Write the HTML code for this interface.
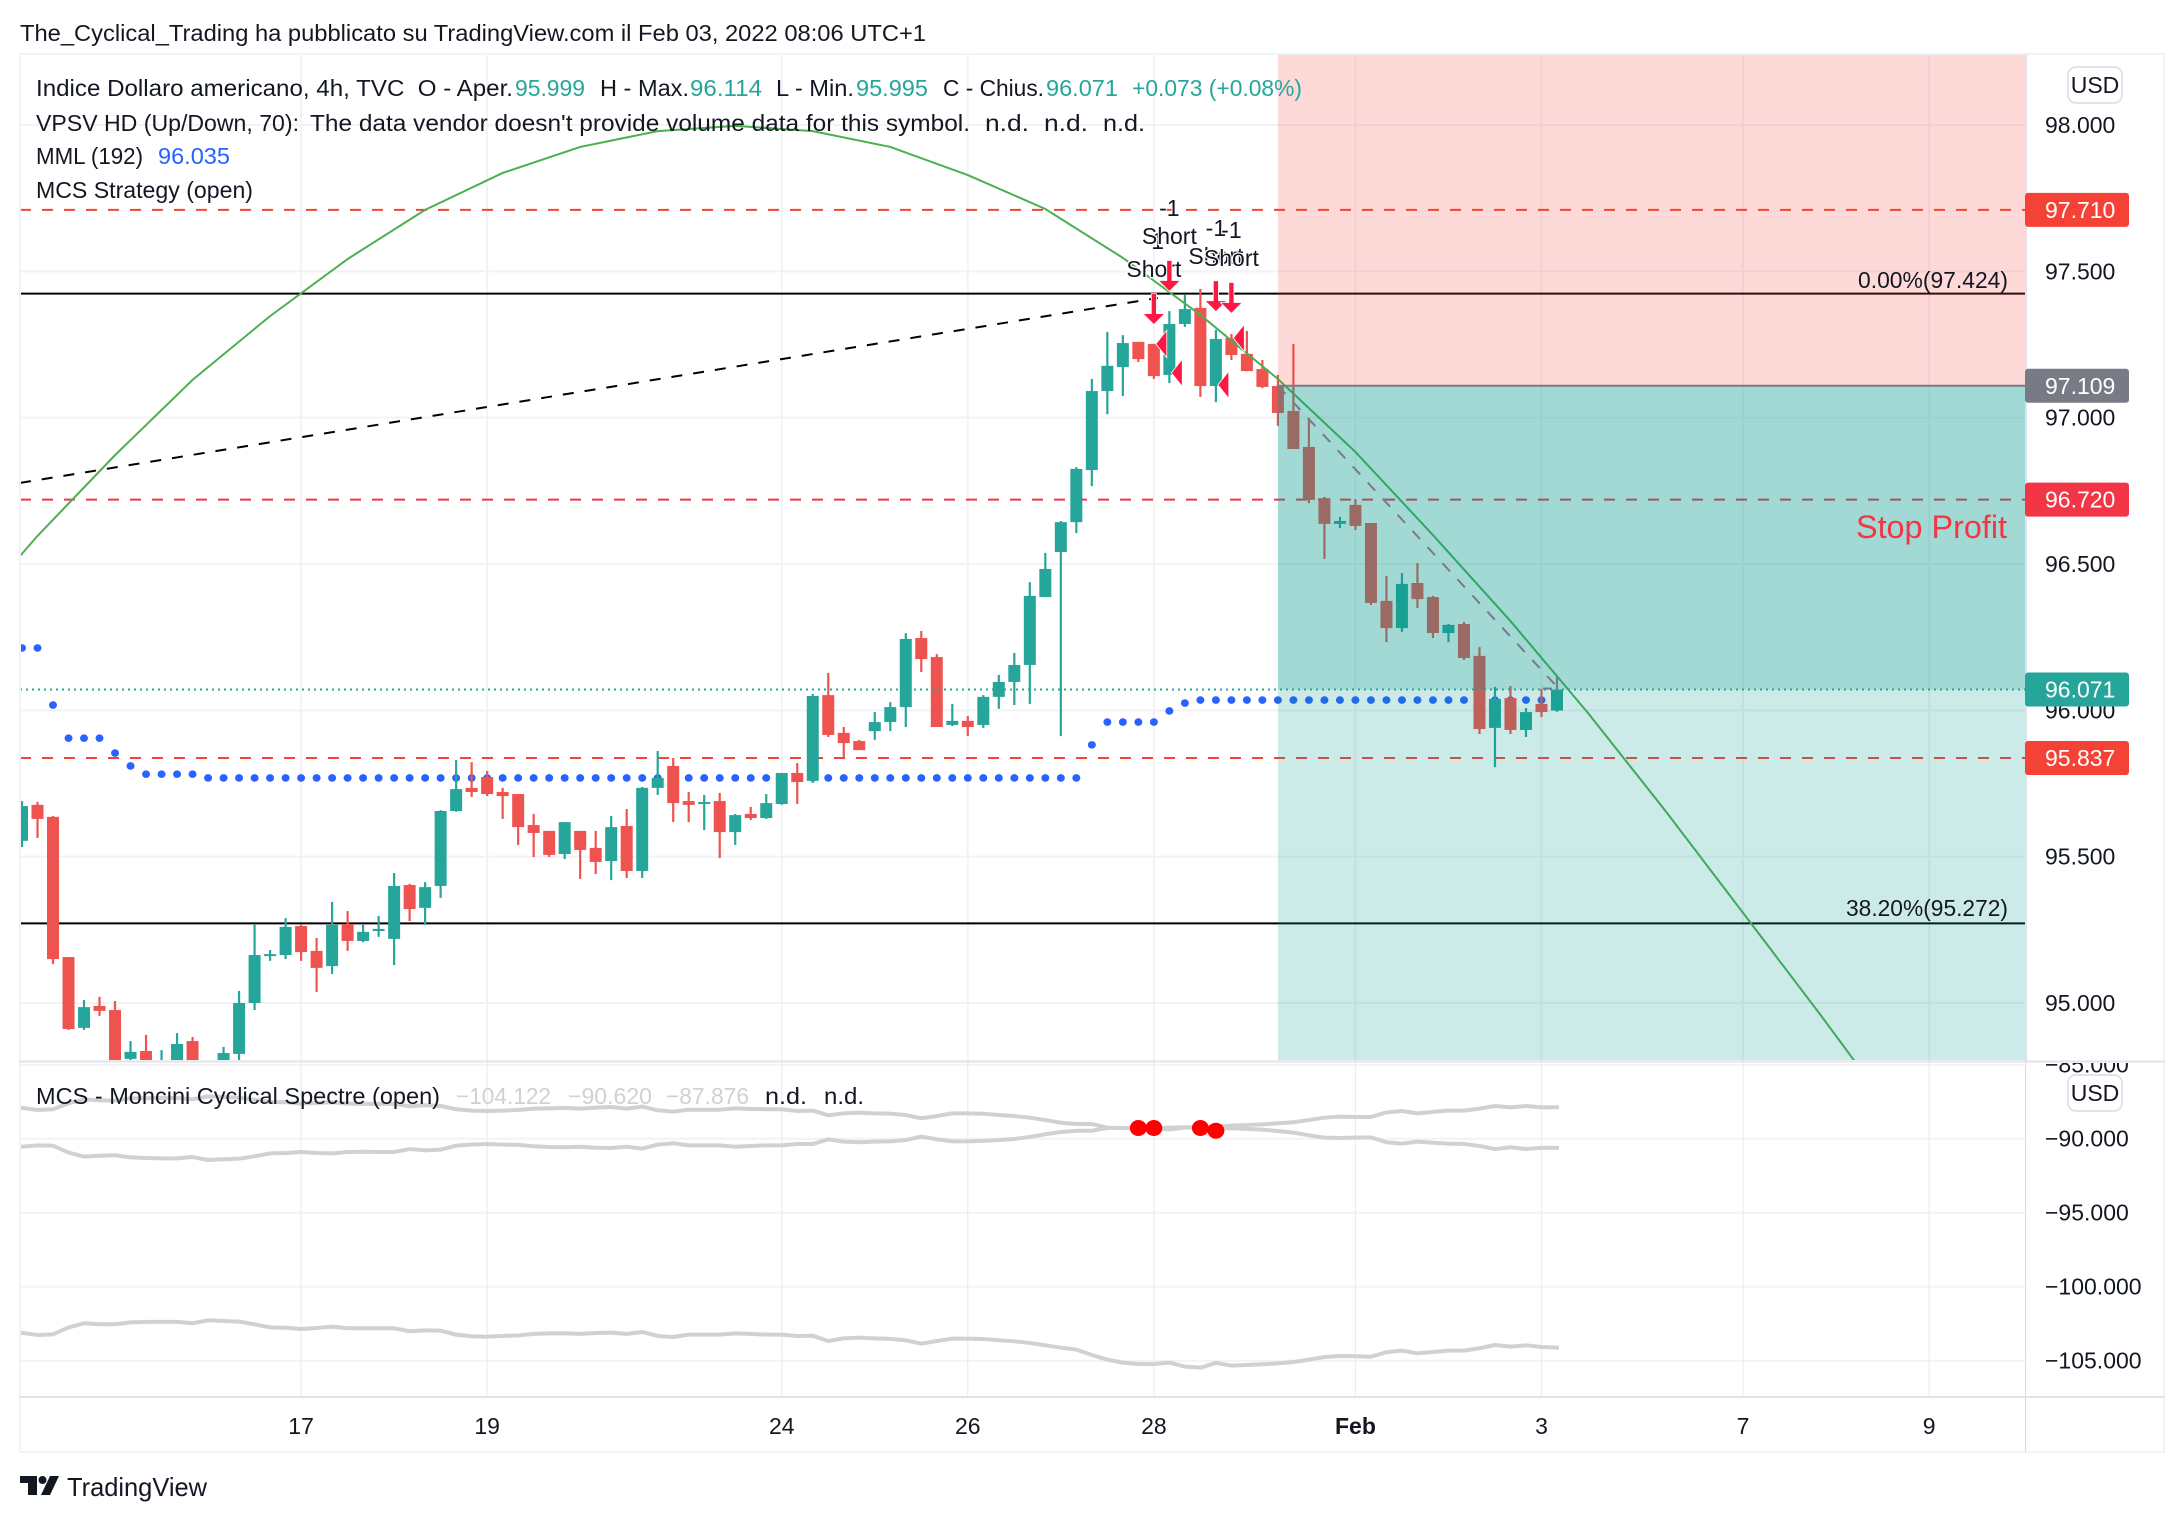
<!DOCTYPE html>
<html lang="it">
<head>
<meta charset="utf-8">
<title>Indice Dollaro americano, 4h</title>
<style>
html,body{margin:0;padding:0;background:#fff;width:2184px;height:1522px;overflow:hidden}
svg{display:block;font-family:"Liberation Sans",sans-serif;font-size:23px;fill:#131722}
</style>
</head>
<body>
<svg id="chart" xmlns="http://www.w3.org/2000/svg" width="2184" height="1522" viewBox="0 0 2184 1522">
  <defs>
    <clipPath id="main-clip"><rect x="21" y="55" width="2004" height="1005"/></clipPath>
    <clipPath id="spec-clip"><rect x="21" y="1063" width="2004" height="333"/></clipPath>
    <clipPath id="spec-axis-clip"><rect x="2027" y="1063" width="136" height="333"/></clipPath>
  </defs>
  <rect width="2184" height="1522" fill="#ffffff"/>
  <text x="20" y="41" textLength="906" lengthAdjust="spacingAndGlyphs">The_Cyclical_Trading ha pubblicato su TradingView.com il Feb 03, 2022 08:06 UTC+1</text>

  <g id="grid"></g>
  <g id="main-pane" clip-path="url(#main-clip)">
    <g id="levels"></g>
    <g id="dots"></g>
    <g id="candles"></g>
    <g id="curve"></g>
    <g id="zones"></g>
    <g id="overlay"></g>
    <g id="markers"></g>
  </g>
  <g id="spec-pane" clip-path="url(#spec-clip)"></g>

  <g fill="none">
    <line x1="20" x2="2165" y1="54" y2="54" stroke="#f0f3fa" stroke-width="2"/>
    <line x1="20" x2="20" y1="54" y2="1452" stroke="#f0f3fa" stroke-width="2"/>
    <line x1="2164" x2="2164" y1="54" y2="1452" stroke="#f0f3fa" stroke-width="2"/>
    <line x1="20" x2="2165" y1="1452" y2="1452" stroke="#f0f3fa" stroke-width="2"/>
    <line x1="20" x2="2165" y1="1061.5" y2="1061.5" stroke="#e0e3eb" stroke-width="2"/>
    <line x1="20" x2="2165" y1="1397" y2="1397" stroke="#e0e3eb" stroke-width="2"/>
    <line x1="2026" x2="2026" y1="54" y2="1061" stroke="#e0e3eb" stroke-width="2"/>
    <line x1="2025.5" x2="2025.5" y1="1062" y2="1452" stroke="#d8d8dd" stroke-width="1"/>
  </g>

  <g id="axis-labels"></g>
  <g id="spec-axis-labels" clip-path="url(#spec-axis-clip)"></g>
  <g id="tags"></g>

  <g>
    <text x="36" y="96" textLength="477" lengthAdjust="spacingAndGlyphs" xml:space="preserve">Indice Dollaro americano, 4h, TVC  O - Aper.</text>
    <text x="515" y="96" textLength="70" lengthAdjust="spacingAndGlyphs" fill="#26a69a">95.999</text>
    <text x="600" y="96" textLength="89" lengthAdjust="spacingAndGlyphs">H - Max.</text>
    <text x="690" y="96" textLength="72" lengthAdjust="spacingAndGlyphs" fill="#26a69a">96.114</text>
    <text x="776" y="96" textLength="78" lengthAdjust="spacingAndGlyphs">L - Min.</text>
    <text x="856" y="96" textLength="72" lengthAdjust="spacingAndGlyphs" fill="#26a69a">95.995</text>
    <text x="943" y="96" textLength="101" lengthAdjust="spacingAndGlyphs">C - Chius.</text>
    <text x="1046" y="96" textLength="72" lengthAdjust="spacingAndGlyphs" fill="#26a69a">96.071</text>
    <text x="1132" y="96" textLength="170" lengthAdjust="spacingAndGlyphs" fill="#26a69a">+0.073 (+0.08%)</text>
    <text x="36" y="131" textLength="263" lengthAdjust="spacingAndGlyphs">VPSV HD (Up/Down, 70):</text>
    <text x="310" y="131" textLength="660" lengthAdjust="spacingAndGlyphs">The data vendor doesn't provide volume data for this symbol.</text>
    <text x="985" y="131" textLength="44" lengthAdjust="spacingAndGlyphs">n.d.</text>
    <text x="1044" y="131" textLength="44" lengthAdjust="spacingAndGlyphs">n.d.</text>
    <text x="1103" y="131" textLength="42" lengthAdjust="spacingAndGlyphs">n.d.</text>
    <text x="36" y="164" textLength="107" lengthAdjust="spacingAndGlyphs">MML (192)</text>
    <text x="158" y="164" textLength="72" lengthAdjust="spacingAndGlyphs" fill="#2962ff">96.035</text>
    <text x="36" y="198" textLength="217" lengthAdjust="spacingAndGlyphs">MCS Strategy (open)</text>
  </g>

  <g>
    <text x="36" y="1104" textLength="404" lengthAdjust="spacingAndGlyphs">MCS - Moncini Cyclical Spectre (open)</text>
    <text x="456" y="1104" textLength="95" lengthAdjust="spacingAndGlyphs" fill="#d1d1d1">−104.122</text>
    <text x="568" y="1104" textLength="84" lengthAdjust="spacingAndGlyphs" fill="#d1d1d1">−90.620</text>
    <text x="666" y="1104" textLength="83" lengthAdjust="spacingAndGlyphs" fill="#d1d1d1">−87.876</text>
    <text x="765" y="1104" textLength="42" lengthAdjust="spacingAndGlyphs">n.d.</text>
    <text x="824" y="1104" textLength="40" lengthAdjust="spacingAndGlyphs">n.d.</text>
  </g>

  <g>
    <text x="1858" y="288" textLength="150" lengthAdjust="spacingAndGlyphs">0.00%(97.424)</text>
    <text x="1846" y="916" textLength="162" lengthAdjust="spacingAndGlyphs">38.20%(95.272)</text>
    <text x="1856" y="538" font-size="32" textLength="151" lengthAdjust="spacingAndGlyphs" fill="#f23645">Stop Profit</text>
  </g>

  <g>
    <rect x="2068" y="67" width="54" height="36" rx="8" fill="#fff" stroke="#e0e3eb" stroke-width="2"/>
    <text x="2095" y="93" text-anchor="middle">USD</text>
  </g>
  <g>
    <rect x="2068" y="1075" width="54" height="36" rx="8" fill="#fff" stroke="#e0e3eb" stroke-width="2"/>
    <text x="2095" y="1101" text-anchor="middle">USD</text>
  </g>

  <g>
    <path d="M20 1476H37V1495H28V1483H20Z" fill="#131722"/>
    <circle cx="42.500" cy="1480" r="4" fill="#131722"/>
    <path d="M50 1476H59L50 1495H41Z" fill="#131722"/>
    <text x="67" y="1496" font-size="26" textLength="140" lengthAdjust="spacingAndGlyphs">TradingView</text>
  </g>
</svg>

<script>
// ---- candle data ----
const opens = [95.554,95.677,95.636,95.157,94.915,94.990,94.976,94.809,94.836,94.740,
94.740,94.870,94.780,94.750,94.826,95.000,95.161,95.164,95.263,95.178,
95.126,95.270,95.212,95.246,95.219,95.403,95.325,95.400,95.656,95.735,
95.772,95.721,95.714,95.608,95.588,95.509,95.588,95.530,95.485,95.605,
95.451,95.735,95.810,95.690,95.680,95.690,95.584,95.646,95.632,95.680,
95.786,95.759,96.052,95.923,95.895,95.929,95.960,96.011,96.247,96.182,
95.950,95.964,95.950,96.046,96.097,96.155,96.387,96.541,96.643,96.821,
97.091,97.173,97.259,97.252,97.146,97.320,97.375,97.108,97.272,97.218,
97.166,97.108,97.023,96.900,96.725,96.637,96.702,96.640,96.374,96.281,
96.435,96.387,96.264,96.295,96.186,95.940,96.042,95.933,96.022,95.999];
const highs = [95.690,95.687,95.639,95.157,95.010,95.021,95.007,94.870,94.891,94.839,
94.897,94.884,94.790,94.850,95.041,95.267,95.181,95.290,95.267,95.222,
95.345,95.314,95.267,95.297,95.444,95.407,95.413,95.659,95.830,95.823,
95.793,95.735,95.714,95.646,95.588,95.618,95.588,95.588,95.639,95.663,
95.738,95.861,95.837,95.721,95.711,95.718,95.646,95.670,95.714,95.786,
95.820,96.056,96.128,95.943,95.899,95.994,96.028,96.264,96.271,96.192,
96.022,95.981,96.052,96.121,96.196,96.438,96.538,96.647,96.831,97.132,
97.293,97.282,97.259,97.252,97.364,97.419,97.440,97.300,97.286,97.296,
97.197,97.146,97.252,96.999,96.729,96.661,96.722,96.640,96.459,96.469,
96.503,96.391,96.295,96.302,96.216,96.080,96.083,96.008,96.073,96.114];
const lows = [95.533,95.564,95.133,94.908,94.908,94.956,94.760,94.805,94.740,94.720,
94.720,94.730,94.700,94.730,94.805,94.976,95.144,95.150,95.144,95.038,
95.099,95.178,95.208,95.226,95.130,95.280,95.267,95.359,95.653,95.704,
95.707,95.629,95.540,95.499,95.499,95.492,95.424,95.441,95.420,95.427,
95.427,95.711,95.618,95.618,95.591,95.495,95.540,95.625,95.629,95.677,
95.680,95.752,95.909,95.837,95.864,95.899,95.929,95.943,96.131,95.943,
95.946,95.912,95.940,96.005,96.018,96.022,96.387,95.912,96.606,96.766,
97.012,97.074,97.190,97.132,97.118,97.310,97.071,97.053,97.197,97.159,
97.101,96.972,96.893,96.708,96.517,96.623,96.616,96.360,96.233,96.268,
96.350,96.247,96.233,96.172,95.919,95.806,95.919,95.909,95.977,95.995];
const closes = [95.673,95.629,95.150,94.911,94.986,94.973,94.800,94.833,94.760,94.790,
94.860,94.750,94.740,94.829,95.000,95.164,95.167,95.260,95.174,95.120,
95.267,95.212,95.243,95.253,95.400,95.321,95.396,95.656,95.731,95.721,
95.714,95.707,95.601,95.581,95.506,95.618,95.523,95.482,95.601,95.451,
95.735,95.769,95.683,95.677,95.687,95.584,95.642,95.632,95.683,95.786,
95.755,96.049,95.916,95.888,95.864,95.960,96.011,96.244,96.175,95.943,
95.964,95.943,96.046,96.097,96.155,96.391,96.483,96.643,96.825,97.091,
97.177,97.255,97.200,97.142,97.320,97.371,97.108,97.269,97.214,97.159,
97.105,97.016,96.893,96.719,96.637,96.647,96.630,96.367,96.281,96.432,
96.380,96.264,96.292,96.179,95.936,96.039,95.933,95.994,95.994,96.071];

// ---- MML dots, one per candle ----
const mmlDots = [96.213,96.213,96.018,95.905,95.905,95.905,95.854,95.810,95.782,95.782,
95.782,95.782,95.769,95.769,95.769,95.769,95.769,95.769,95.769,95.769,
95.769,95.769,95.769,95.769,95.769,95.769,95.769,95.769,95.769,95.769,
95.769,95.769,95.769,95.769,95.769,95.769,95.769,95.769,95.769,95.769,
95.769,95.769,95.769,95.769,95.769,95.769,95.769,95.769,95.769,95.769,
95.769,95.769,95.769,95.769,95.769,95.769,95.769,95.769,95.769,95.769,
95.769,95.769,95.769,95.769,95.769,95.769,95.769,95.769,95.769,95.882,
95.960,95.960,95.960,95.960,95.998,96.025,96.035,96.035,96.035,96.035,
96.035,96.035,96.035,96.035,96.035,96.035,96.035,96.035,96.035,96.035,
96.035,96.035,96.035,96.035,96.035,96.035,96.035,96.035,96.035];

// ---- green curve ----
const curveBars = [-4,1,6,11,16,21,26,31,36,41,46,51,56,61,66,71,76,81,86,91,96,101,106,111,116,121];
const curveValues = [96.292,96.596,96.872,97.129,97.347,97.542,97.710,97.836,97.925,97.979,97.997,97.979,97.925,97.829,97.713,97.546,97.351,97.132,96.883,96.599,96.305,95.991,95.656,95.308,94.959,94.600];

// ---- spectre pane series ----
const specTop = [-87.92,-88.06,-88.01,-87.61,-87.34,-87.41,-87.43,-87.27,-87.27,-87.25,
-87.25,-87.34,-87.14,-87.18,-87.23,-87.36,-87.52,-87.54,-87.63,-87.59,
-87.54,-87.63,-87.65,-87.65,-87.65,-87.81,-87.74,-87.79,-88.01,-88.10,
-88.13,-88.10,-88.06,-87.97,-87.95,-87.92,-87.97,-87.90,-87.86,-87.97,
-87.83,-88.08,-88.17,-88.04,-88.04,-88.04,-87.95,-87.99,-88.01,-88.01,
-88.13,-88.10,-88.42,-88.29,-88.24,-88.29,-88.31,-88.40,-88.62,-88.47,
-88.29,-88.29,-88.31,-88.40,-88.47,-88.58,-88.74,-88.92,-89.01,-89.01,
-89.25,-89.28,-89.30,-89.28,-89.25,-89.23,-89.25,-89.19,-89.12,-89.07,
-89.03,-88.96,-88.89,-88.74,-88.58,-88.51,-88.53,-88.53,-88.22,-88.13,
-88.29,-88.19,-88.10,-88.10,-87.97,-87.79,-87.88,-87.79,-87.88,-87.876];
const specMid = [-90.54,-90.45,-90.47,-90.94,-91.21,-91.15,-91.12,-91.26,-91.30,-91.33,
-91.33,-91.24,-91.44,-91.39,-91.35,-91.19,-90.99,-90.97,-90.90,-90.97,
-90.99,-90.90,-90.88,-90.90,-90.90,-90.70,-90.79,-90.74,-90.47,-90.40,
-90.36,-90.40,-90.42,-90.51,-90.56,-90.58,-90.54,-90.61,-90.63,-90.54,
-90.67,-90.40,-90.31,-90.45,-90.45,-90.45,-90.54,-90.49,-90.45,-90.45,
-90.36,-90.36,-90.04,-90.20,-90.24,-90.20,-90.18,-90.09,-89.86,-90.04,
-90.18,-90.18,-90.15,-90.09,-90.02,-89.88,-89.70,-89.55,-89.46,-89.46,
-89.28,-89.28,-89.28,-89.32,-89.37,-89.25,-89.25,-89.28,-89.30,-89.34,
-89.39,-89.48,-89.59,-89.77,-89.93,-89.95,-89.93,-89.91,-90.24,-90.33,
-90.20,-90.27,-90.33,-90.36,-90.49,-90.70,-90.58,-90.70,-90.61,-90.62];
const specBottom = [-103.13,-103.26,-103.22,-102.75,-102.47,-102.54,-102.54,-102.41,-102.38,-102.38,
-102.38,-102.47,-102.27,-102.32,-102.36,-102.54,-102.75,-102.77,-102.86,-102.79,
-102.70,-102.81,-102.81,-102.81,-102.81,-103.01,-102.95,-102.97,-103.24,-103.35,
-103.38,-103.33,-103.29,-103.19,-103.15,-103.15,-103.19,-103.13,-103.10,-103.19,
-103.06,-103.33,-103.40,-103.24,-103.24,-103.24,-103.15,-103.19,-103.24,-103.24,
-103.33,-103.31,-103.67,-103.49,-103.44,-103.49,-103.53,-103.62,-103.85,-103.67,
-103.51,-103.51,-103.53,-103.62,-103.69,-103.80,-103.96,-104.12,-104.25,-104.61,
-104.93,-105.13,-105.22,-105.22,-105.13,-105.40,-105.47,-105.15,-105.33,-105.29,
-105.24,-105.18,-105.09,-104.93,-104.75,-104.68,-104.70,-104.73,-104.43,-104.32,
-104.50,-104.41,-104.32,-104.32,-104.16,-103.94,-104.05,-103.96,-104.07,-104.122];
const signalBars = [72,73,76,77];
const signalValues = [-89.28,-89.28,-89.28,-89.46];

// ---- axis ticks ----
const priceTicks = [98,97.5,97,96.5,96,95.5,95];
const specTicks = [-85,-90,-95,-100,-105];
const timeBars = [18,30,49,61,73,86,98,111,123];
const timeLabels = ['17','19','24','26','28','Feb','3','7','9'];

// ---- levels, tags, position tool ----
const dashedLevels = [97.71,96.72,95.837];
const dashedColors = ['#f44336','#f23645','#f44336'];
const fibLevels = [97.424,95.272];
const lastClose = 96.071;
const positionEntry = 97.109;
const positionStartBar = 81;
const positionEndBar = 99;
const tagValues = [97.71,97.109,96.72,96.071,95.837];
const tagColors = ['#f44336','#787b86','#f23645','#26a69a','#f44336'];
const trendBars = [-0.13,73.25];
const trendValues = [96.777,97.409];

// ---- strategy markers ----
const arrowBars = [73,74,77,78];
const arrowTips = [97.320,97.433,97.364,97.358];
const closeBars = [73,74,77,78];
const closePrices = [97.252,97.153,97.112,97.272];

// ---- axis functions ----
const SVGNS = 'http://www.w3.org/2000/svg';
function x(bar){ return 22 + 15.505 * bar; }
function y(price){ return 1003 - (price - 95) * 292.67; }
function sy(v){ return 1138.7 + (-90 - v) * 14.8; }
function mk(tag, parent){ const e = document.createElementNS(SVGNS, tag); parent.appendChild(e); return e; }
function fmt(v){ return v.toFixed(3).replace('-', '\u2212'); }
const $ = id => document.getElementById(id);

// grid
priceTicks.forEach(p => {
  const l = mk('line', $('grid'));
  
  
  l.setAttribute('x1', 20); l.setAttribute('x2', 2025);
  l.setAttribute('y1', y(p)); l.setAttribute('y2', y(p));
  l.setAttribute('stroke', '#f3f3f5'); l.setAttribute('stroke-width', 2);
});
specTicks.forEach(v => {
  const l = mk('line', $('grid'));
  
  
  l.setAttribute('x1', 20); l.setAttribute('x2', 2025);
  l.setAttribute('y1', sy(v)); l.setAttribute('y2', sy(v));
  l.setAttribute('stroke', '#f3f3f5'); l.setAttribute('stroke-width', 2);
});
timeBars.forEach(b => {
  const l = mk('line', $('grid'));
  
  
  l.setAttribute('x1', x(b)); l.setAttribute('x2', x(b));
  l.setAttribute('y1', 54); l.setAttribute('y2', 1061);
  l.setAttribute('stroke', '#f3f3f5'); l.setAttribute('stroke-width', 2);
  const m = mk('line', $('grid'));
  
  
  m.setAttribute('x1', x(b)); m.setAttribute('x2', x(b));
  m.setAttribute('y1', 1062); m.setAttribute('y2', 1397);
  m.setAttribute('stroke', '#ededf0'); m.setAttribute('stroke-width', 1.2);
});

// red dashed levels and black fib lines
dashedLevels.forEach((p, i) => {
  const l = mk('line', $('levels'));
  
  
  l.setAttribute('x1', 20); l.setAttribute('x2', 2025);
  l.setAttribute('y1', y(p)); l.setAttribute('y2', y(p));
  l.setAttribute('stroke', dashedColors[i]); l.setAttribute('stroke-width', 2);
  l.setAttribute('stroke-dasharray', '11 11');
});
fibLevels.forEach(p => {
  const l = mk('line', $('levels'));
  
  
  l.setAttribute('x1', 20); l.setAttribute('x2', 2025);
  l.setAttribute('y1', y(p)); l.setAttribute('y2', y(p));
  l.setAttribute('stroke', '#000000'); l.setAttribute('stroke-width', 2);
});
const trend = mk('line', $('levels'));


trend.setAttribute('x1', x(trendBars[0])); trend.setAttribute('x2', x(trendBars[1]));
trend.setAttribute('y1', y(trendValues[0])); trend.setAttribute('y2', y(trendValues[1]));
trend.setAttribute('stroke', '#000000'); trend.setAttribute('stroke-width', 2);
trend.setAttribute('stroke-dasharray', '11 11');

// MML dots
mmlDots.forEach((p, i) => {
  const d = mk('ellipse', $('dots'));
  
  
  d.setAttribute('cx', x(i)); d.setAttribute('cy', y(p));
  d.setAttribute('rx', 4); d.setAttribute('ry', 3.8);
  d.setAttribute('fill', '#2962ff');
});

// candles
opens.forEach((o, i) => {
  const up = closes[i] >= o;
  const col = up ? '#26a69a' : '#ef5350';
  const w = mk('line', $('candles'));
  
  
  w.setAttribute('x1', x(i)); w.setAttribute('x2', x(i));
  w.setAttribute('y1', y(highs[i])); w.setAttribute('y2', y(lows[i]));
  w.setAttribute('stroke', col); w.setAttribute('stroke-width', 2.2);
  const b = mk('rect', $('candles'));
  
  
  b.setAttribute('x', x(i) - 6); b.setAttribute('width', 12);
  b.setAttribute('y', y(Math.max(o, closes[i])));
  b.setAttribute('height', Math.max(2, Math.abs(y(o) - y(closes[i]))));
  b.setAttribute('fill', col);
});

// green curve
const curve = mk('polyline', $('curve'));


curve.setAttribute('points', curveBars.map((b, i) => x(b) + ',' + y(curveValues[i])).join(' '));
curve.setAttribute('fill', 'none');
curve.setAttribute('stroke', '#4caf50');
curve.setAttribute('stroke-width', 2);

// short-position zones
const zx = x(positionStartBar);
const zoneRed = mk('rect', $('zones'));


zoneRed.setAttribute('x', zx); zoneRed.setAttribute('width', 2025 - zx);
zoneRed.setAttribute('y', 54); zoneRed.setAttribute('height', y(positionEntry) - 54);
zoneRed.setAttribute('fill', 'rgba(244,67,54,0.2)');
const zoneDark = mk('rect', $('zones'));


zoneDark.setAttribute('x', zx); zoneDark.setAttribute('width', 2025 - zx);
zoneDark.setAttribute('y', y(positionEntry)); zoneDark.setAttribute('height', y(lastClose) - y(positionEntry));
zoneDark.setAttribute('fill', 'rgba(0,150,136,0.36)');
const zoneLight = mk('rect', $('zones'));


zoneLight.setAttribute('x', zx); zoneLight.setAttribute('width', 2025 - zx);
zoneLight.setAttribute('y', y(lastClose)); zoneLight.setAttribute('height', 1061 - y(lastClose));
zoneLight.setAttribute('fill', 'rgba(0,150,136,0.2)');

// overlay lines
const entryLine = mk('line', $('overlay'));


entryLine.setAttribute('x1', zx); entryLine.setAttribute('x2', 2025);
entryLine.setAttribute('y1', y(positionEntry)); entryLine.setAttribute('y2', y(positionEntry));
entryLine.setAttribute('stroke', '#787b86'); entryLine.setAttribute('stroke-width', 2);
const pathLine = mk('line', $('overlay'));


pathLine.setAttribute('x1', zx); pathLine.setAttribute('y1', y(positionEntry));
pathLine.setAttribute('x2', x(positionEndBar) - 2); pathLine.setAttribute('y2', y(lastClose) - 5);
pathLine.setAttribute('stroke', '#787b86'); pathLine.setAttribute('stroke-width', 2);
pathLine.setAttribute('stroke-dasharray', '11 11');
const lastLine = mk('line', $('overlay'));


lastLine.setAttribute('x1', 20); lastLine.setAttribute('x2', 2025);
lastLine.setAttribute('y1', y(lastClose)); lastLine.setAttribute('y2', y(lastClose));
lastLine.setAttribute('stroke', '#26a69a'); lastLine.setAttribute('stroke-width', 2);
lastLine.setAttribute('stroke-dasharray', '2 4');
const endTick = mk('polyline', $('overlay'));


endTick.setAttribute('points', (x(positionEndBar) - 14) + ',' + (y(lastClose) - 1) + ' ' + (x(positionEndBar) - 5) + ',' + (y(lastClose) - 1));
endTick.setAttribute('fill', 'none');
endTick.setAttribute('stroke', '#787b86'); endTick.setAttribute('stroke-width', 2);
const endWick = mk('line', $('overlay'));


endWick.setAttribute('x1', x(positionEndBar)); endWick.setAttribute('x2', x(positionEndBar));
endWick.setAttribute('y1', y(highs[positionEndBar])); endWick.setAttribute('y2', y(lastClose));
endWick.setAttribute('stroke', '#787b86'); endWick.setAttribute('stroke-width', 2);

// strategy markers
closeBars.forEach((b, i) => {
  const t = mk('polygon', $('markers'));
  
  
  const cx = x(b) + 2.5, cy = y(closePrices[i]);
  t.setAttribute('points', cx + ',' + cy + ' ' + (cx + 10) + ',' + (cy - 12.5) + ' ' + (cx + 10) + ',' + (cy + 12.5));
  t.setAttribute('fill', '#ff1744');
  t.setAttribute('stroke', '#ffffff'); t.setAttribute('stroke-width', 1.6);
  t.setAttribute('paint-order', 'stroke');
});
arrowBars.forEach((b, i) => {
  const cx = x(b), tip = y(arrowTips[i]);
  const a = mk('polygon', $('markers'));
  
  
  a.setAttribute('points', [[cx, tip], [cx - 10, tip - 10], [cx - 2.2, tip - 10], [cx - 2.2, tip - 30], [cx + 2.2, tip - 30], [cx + 2.2, tip - 10], [cx + 10, tip - 10]].map(p => p.join(',')).join(' '));
  a.setAttribute('fill', '#ff1744');
  a.setAttribute('stroke', '#ffffff'); a.setAttribute('stroke-width', 1.6);
  a.setAttribute('paint-order', 'stroke');
  const one = mk('text', $('markers'));
  
  
  one.setAttribute('x', cx); one.setAttribute('y', tip - 75);
  one.setAttribute('text-anchor', 'middle');
  one.setAttribute('stroke', '#ffffff'); one.setAttribute('stroke-width', 2);
  one.setAttribute('paint-order', 'stroke');
  one.textContent = '-1';
  const s = mk('text', $('markers'));
  
  
  s.setAttribute('x', cx); s.setAttribute('y', tip - 47);
  s.setAttribute('text-anchor', 'middle');
  s.setAttribute('stroke', '#ffffff'); s.setAttribute('stroke-width', 2.5);
  s.setAttribute('paint-order', 'stroke');
  s.textContent = 'Short';
});

// spectre pane
[[specTop, 'spectre-line-top'], [specMid, 'spectre-line-mid'], [specBottom, 'spectre-line-bottom']].forEach(pair => {
  const pl = mk('polyline', $('spec-pane'));
  
  
  pl.setAttribute('points', pair[0].map((v, i) => x(i) + ',' + sy(v)).join(' '));
  pl.setAttribute('fill', 'none');
  pl.setAttribute('stroke', '#d1d1d1');
  pl.setAttribute('stroke-width', 4);
  pl.setAttribute('stroke-linejoin', 'round');
  pl.setAttribute('stroke-linecap', 'square');
});
signalBars.forEach((b, i) => {
  const c = mk('ellipse', $('spec-pane'));
  
  
  c.setAttribute('cx', x(b)); c.setAttribute('cy', sy(signalValues[i]));
  c.setAttribute('rx', 8.5); c.setAttribute('ry', 8);
  c.setAttribute('fill', '#ff0000');
});

// axis labels
priceTicks.forEach(p => {
  const t = mk('text', $('axis-labels'));
  
  
  t.setAttribute('x', 2045); t.setAttribute('y', y(p) + 8);
  t.textContent = fmt(p);
});
specTicks.forEach(v => {
  const t = mk('text', $('spec-axis-labels'));
  
  
  t.setAttribute('x', 2045); t.setAttribute('y', sy(v) + 8);
  t.textContent = fmt(v);
});
timeBars.forEach((b, i) => {
  const t = mk('text', $('axis-labels'));
  
  
  t.setAttribute('x', x(b)); t.setAttribute('y', 1434);
  t.setAttribute('text-anchor', 'middle');
  if (timeLabels[i] === 'Feb') { t.setAttribute('font-weight', 'bold'); }
  t.textContent = timeLabels[i];
});

// price tags
tagValues.forEach((p, i) => {
  const r = mk('rect', $('tags'));
  
  
  r.setAttribute('x', 2025); r.setAttribute('y', y(p) - 17);
  r.setAttribute('width', 104); r.setAttribute('height', 34);
  r.setAttribute('rx', 3);
  r.setAttribute('fill', tagColors[i]);
  const t = mk('text', $('tags'));
  
  
  t.setAttribute('x', 2045); t.setAttribute('y', y(p) + 8);
  t.setAttribute('fill', '#ffffff');
  t.textContent = fmt(p);
});
</script>
</body>
</html>
